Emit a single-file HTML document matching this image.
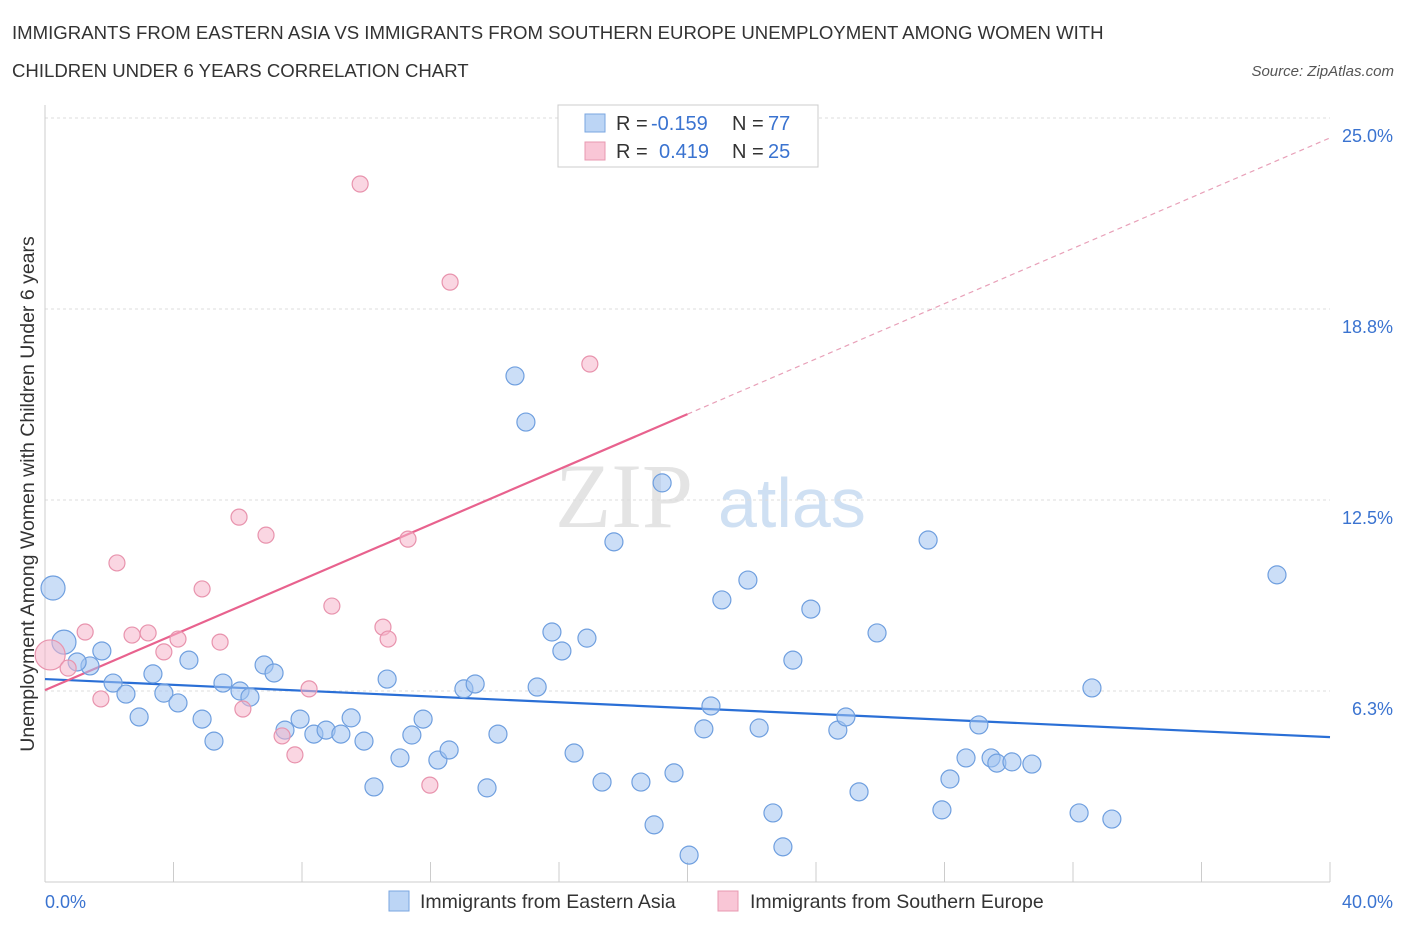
<!DOCTYPE html>
<html><head><meta charset="utf-8"><style>
body{margin:0;background:#fff;font-family:"Liberation Sans",sans-serif;}
</style></head><body>
<svg id="chart" width="1406" height="930" xmlns="http://www.w3.org/2000/svg">
<text x="12" y="39" font-size="18.6" fill="#333">IMMIGRANTS FROM EASTERN ASIA VS IMMIGRANTS FROM SOUTHERN EUROPE UNEMPLOYMENT AMONG WOMEN WITH</text>
<text x="12" y="77" font-size="18.6" fill="#333">CHILDREN UNDER 6 YEARS CORRELATION CHART</text>
<text x="1394" y="76" font-size="15" fill="#555" font-style="italic" text-anchor="end">Source: ZipAtlas.com</text>
<text x="555" y="527" font-size="92" fill="#e4e4e4" font-family="Liberation Serif,serif">ZIP</text>
<text x="718" y="527" font-size="70" fill="#cfe0f3">atlas</text>
<g id="grid"></g>
<g id="axes"></g>
<g id="lines"></g>
<g id="pts"></g>
<text transform="translate(34,494) rotate(-90)" font-size="19.5" fill="#333" text-anchor="middle">Unemployment Among Women with Children Under 6 years</text>
<text x="45" y="908" font-size="18" fill="#3a73d0">0.0%</text>
<text x="1393" y="908" font-size="18" fill="#3a73d0" text-anchor="end">40.0%</text>
<g>
<rect x="558" y="105" width="260" height="62" fill="#fff" stroke="#ccc"/>
<rect x="585" y="114" width="20" height="18" fill="#bcd5f5" stroke="#7aa6e0"/>
<text x="616" y="130" font-size="20" fill="#333">R =</text>
<text x="651" y="130" font-size="20" fill="#3a73d0">-0.159</text>
<text x="732" y="130" font-size="20" fill="#333">N =</text>
<text x="768" y="130" font-size="20" fill="#3a73d0">77</text>
<rect x="585" y="142" width="20" height="18" fill="#f9c6d6" stroke="#e898b0"/>
<text x="616" y="158" font-size="20" fill="#333">R =</text>
<text x="659" y="158" font-size="20" fill="#3a73d0">0.419</text>
<text x="732" y="158" font-size="20" fill="#333">N =</text>
<text x="768" y="158" font-size="20" fill="#3a73d0">25</text>
</g>
<g>
<rect x="389" y="891" width="20" height="20" fill="#bcd5f5" stroke="#7aa6e0"/>
<text x="420" y="908" font-size="19.5" fill="#333">Immigrants from Eastern Asia</text>
<rect x="718" y="891" width="20" height="20" fill="#f9c6d6" stroke="#e898b0"/>
<text x="750" y="908" font-size="19.5" fill="#333">Immigrants from Southern Europe</text>
</g>
</svg>
<script>
const yTicks=[6.25,12.5,18.75,25];
const yTickLabels=["6.3%","12.5%","18.8%","25.0%"];
const blueX=[0.25,0.59,1.40,1.00,1.77,2.12,2.52,2.93,3.36,3.70,4.14,4.48,4.89,5.26,5.54,6.07,6.38,6.82,7.13,7.47,7.94,8.37,8.75,9.21,9.53,9.93,10.24,10.65,11.05,11.42,11.77,12.23,12.58,13.04,13.39,13.76,14.10,14.63,14.97,15.32,15.78,16.09,16.47,16.87,17.34,17.71,18.55,18.96,19.21,19.58,20.05,20.51,20.73,21.07,21.88,22.23,22.66,22.97,23.28,23.84,24.68,24.93,25.34,25.90,27.49,27.92,28.17,28.67,29.07,29.45,29.63,30.10,30.72,32.19,32.59,33.21,38.35];
const blueY=[9.62,7.85,7.07,7.20,7.56,6.51,6.15,5.40,6.81,6.18,5.86,7.26,5.33,4.61,6.51,6.25,6.05,7.10,6.84,4.97,5.33,4.84,4.97,4.84,5.37,4.61,3.11,6.64,4.06,4.81,5.33,3.99,4.32,6.32,6.48,3.08,4.84,16.56,15.05,6.38,8.18,7.56,4.22,7.98,3.27,11.13,3.27,1.87,13.06,3.57,0.88,5.01,5.76,9.23,9.88,5.04,2.26,1.15,7.26,8.93,4.97,5.40,2.95,8.15,11.19,2.36,3.37,4.06,5.14,4.06,3.89,3.93,3.86,2.26,6.35,2.06,10.05];
const pinkX=[0.16,0.72,1.25,1.74,2.24,2.71,3.21,3.70,4.14,4.89,5.45,6.04,6.16,6.88,7.38,7.78,8.22,8.93,9.81,10.52,10.68,11.30,11.98,12.61,16.96];
const pinkY=[7.43,7.00,8.18,5.99,10.44,8.08,8.15,7.53,7.95,9.59,7.85,11.94,5.66,11.35,4.78,4.16,6.32,9.03,22.84,8.34,7.95,11.22,3.17,19.63,16.95];
const blueTrend=[[0,6.64],[40,4.74]];
const pinkTrend=[[0,6.28],[20.0,15.31]];
const pinkTrendExt=[[20.0,15.31],[40,24.35]];
const NS="http://www.w3.org/2000/svg";
const sx=v=>45+v*32.125, sy=v=>882-v*30.56;
function mk(t,a,p){const e=document.createElementNS(NS,t);for(const k in a)e.setAttribute(k,a[k]);p.appendChild(e);return e;}
const grid=document.getElementById('grid'),axes=document.getElementById('axes'),lines=document.getElementById('lines'),pts=document.getElementById('pts');
yTicks.forEach((t,i)=>{
 const l=mk('line',{x1:45,x2:1330,y1:sy(t),y2:sy(t),stroke:'#ddd','stroke-dasharray':'3,3'},grid);
 
 
 const tx=mk('text',{x:1393,y:sy(t)+24,'font-size':18,fill:'#3a73d0','text-anchor':'end'},grid);
 tx.textContent=yTickLabels[i];
 
 
});
const ax=mk('line',{x1:45,x2:1330,y1:882,y2:882,stroke:'#ccc'},axes);


const ay=mk('line',{x1:45,x2:45,y1:105,y2:882,stroke:'#ccc'},axes);


for(let i=0;i<=10;i++){
 const t=mk('line',{x1:sx(i*4),x2:sx(i*4),y1:862,y2:882,stroke:'#ccc'},axes);
 
 
}
function line(tr,col,w,dash,name){
 const l=mk('line',{x1:sx(tr[0][0]),y1:sy(tr[0][1]),x2:sx(tr[1][0]),y2:sy(tr[1][1]),stroke:col,'stroke-width':w},lines);
 if(dash)l.setAttribute('stroke-dasharray',dash);
 
 
}
line(blueTrend,'#2a6fd6',2.2,null,'eastern-asia-trendline');
line(pinkTrend,'#e8628e',2.2,null,'southern-europe-trendline');
line(pinkTrendExt,'#e8a0b8',1.2,'5,4','southern-europe-trendline-extension');
blueX.forEach((x,i)=>{
 const c=mk('circle',{cx:sx(x),cy:sy(blueY[i]),r:i<2?12:9,fill:'rgba(160,195,240,0.55)',stroke:'#6f9fdf','stroke-width':1.2},pts);
 
 
});
pinkX.forEach((x,i)=>{
 const c=mk('circle',{cx:sx(x),cy:sy(pinkY[i]),r:i<1?15:8,fill:'rgba(246,180,202,0.55)',stroke:'#e893ad','stroke-width':1.2},pts);
 
 
});
</script>
</body></html>
